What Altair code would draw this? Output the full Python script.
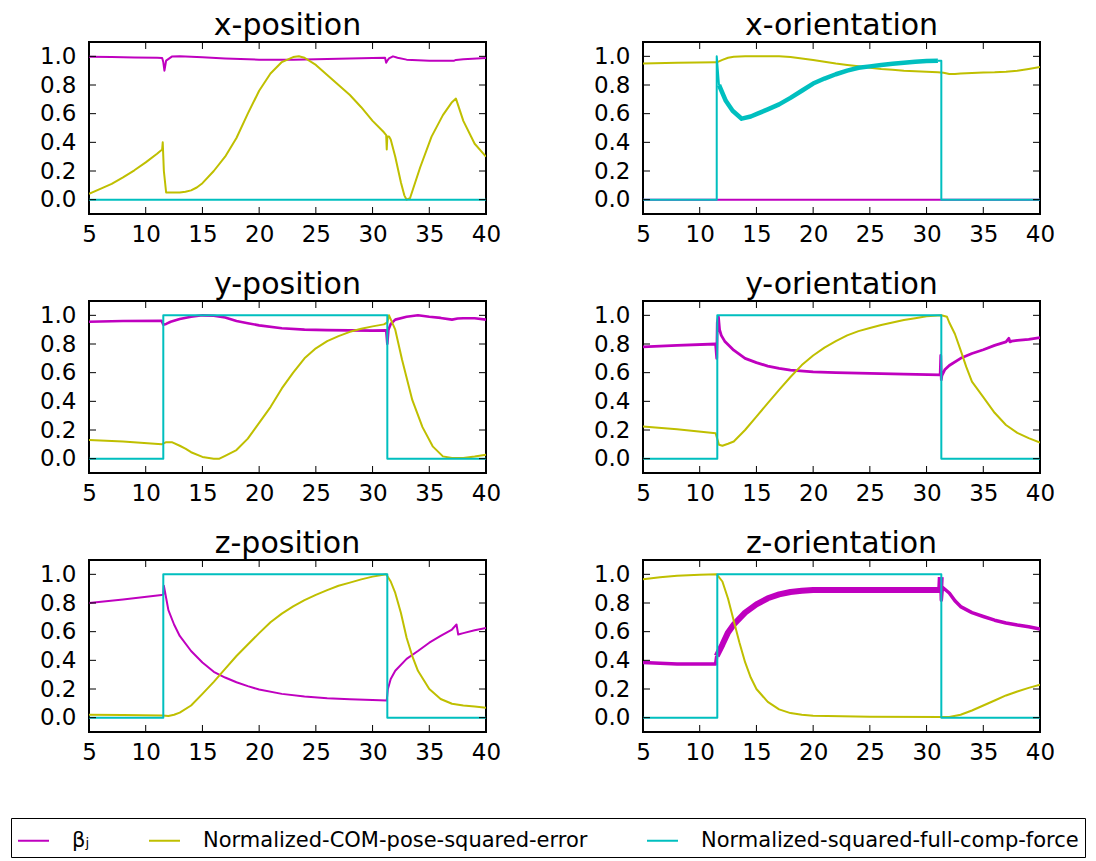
import altair as alt
import pandas as pd

PANELS = ["x-position", "x-orientation", "y-position", "y-orientation", "z-position", "z-orientation"]
SERIES = ["βⱼ", "Normalized-COM-pose-squared-error", "Normalized-squared-full-comp-force"]
COLORS = ["#bf00bf", "#bfbf00", "#00bfbf"]
XTICKS = [5, 10, 15, 20, 25, 30, 35, 40]
YTICKS = [0.0, 0.2, 0.4, 0.6, 0.8, 1.0]

# ---- x-position ----
XPOS_BETA_X = [5, 7, 9, 11, 11.45, 11.55, 11.65, 11.8, 12.3, 13, 15, 17, 20, 23, 25, 28, 30, 31.1, 31.2, 31.3,
               31.45, 31.8, 32.2, 33, 35, 37.2, 37.35, 38, 40]
XPOS_BETA_Y = [0.997, 0.995, 0.992, 0.99, 0.988, 0.96, 0.9, 0.97, 0.998, 1.0, 0.993, 0.985, 0.977, 0.977, 0.98,
               0.985, 0.988, 0.99, 0.955, 0.97, 0.985, 1.0, 0.99, 0.977, 0.97, 0.97, 0.975, 0.98, 0.988]
XPOS_ERR_X = [5, 6, 7, 8, 9, 10, 11, 11.45, 11.5, 11.6, 11.8, 12.5, 13, 13.5, 14, 14.5, 15, 16, 17, 18, 19, 20,
              21, 22, 23, 23.5, 24, 25, 26, 27, 28, 29, 30, 31, 31.2, 31.25, 31.3, 31.45, 31.6, 32, 32.5, 32.8,
              33.0, 33.3, 34.2, 35.2, 36.2, 37.0, 37.35, 38, 39, 40]
XPOS_ERR_Y = [0.04, 0.075, 0.11, 0.155, 0.205, 0.26, 0.32, 0.35, 0.40, 0.2, 0.05, 0.05, 0.05, 0.055, 0.065, 0.085,
              0.115, 0.2, 0.3, 0.43, 0.6, 0.76, 0.88, 0.96, 0.995, 1.0, 0.99, 0.94, 0.87, 0.8, 0.73, 0.645, 0.55,
              0.47, 0.45, 0.35, 0.44, 0.44, 0.42, 0.3, 0.12, 0.03, 0.0, 0.01, 0.226, 0.44, 0.59, 0.68, 0.705,
              0.55, 0.39, 0.3]
XPOS_FORCE_X = [5, 40]
XPOS_FORCE_Y = [0.0, 0.0]

# ---- x-orientation ----
XORI_BETA_X = [5, 40]
XORI_BETA_Y = [0.0, 0.0]
XORI_ERR_X = [5, 8, 11.5, 12, 12.5, 13, 14, 15, 16, 17, 18, 19, 20, 21, 22, 23, 24, 25, 26, 27, 28, 29, 30, 31,
              31.5, 32, 32.5, 33, 34, 35, 36, 37, 38, 39, 40]
XORI_ERR_Y = [0.95, 0.955, 0.958, 0.975, 0.99, 0.997, 1.0, 1.0, 1.0, 1.0, 0.995, 0.985, 0.975, 0.962, 0.95, 0.94,
              0.93, 0.92, 0.912, 0.906, 0.9, 0.896, 0.892, 0.889, 0.885, 0.877, 0.876, 0.88, 0.884, 0.887, 0.889,
              0.893, 0.9, 0.912, 0.925]
XORI_FORCE_X = [5, 11.5, 11.5, 11.7, 12.3, 12.9, 13.7, 14.5, 15.1, 16, 17, 18, 19, 20, 21, 22, 23, 24, 25, 26, 27,
                28, 29, 30, 31, 31.3, 31.3, 40]
XORI_FORCE_Y = [0.0, 0.0, 1.0, 0.80, 0.69, 0.62, 0.565, 0.58, 0.6, 0.63, 0.665, 0.71, 0.76, 0.81, 0.845, 0.875,
                0.9, 0.92, 0.93, 0.94, 0.948, 0.955, 0.962, 0.967, 0.97, 0.97, 0.0, 0.0]

# ---- y-position ----
YPOS_BETA_X = [5, 8, 11.4, 11.55, 11.8, 12.2, 13, 14, 15, 16, 17, 18, 19, 20, 22, 24, 26, 28, 30, 31.2, 31.3,
               31.4, 31.6, 32, 33, 34, 35, 36, 37, 37.5, 38, 39, 40]
YPOS_BETA_Y = [0.955, 0.96, 0.962, 0.935, 0.94, 0.955, 0.975, 0.99, 1.0, 0.997, 0.985, 0.96, 0.945, 0.93, 0.91,
               0.9, 0.897, 0.895, 0.893, 0.895, 0.80, 0.9, 0.94, 0.97, 0.99, 1.0, 0.99, 0.982, 0.97, 0.978, 0.98,
               0.98, 0.97]
YPOS_ERR_X = [5, 8, 11.4, 11.8, 12.3, 13, 13.5, 14, 15, 16, 16.5, 17, 18, 19, 20, 21, 22, 23, 24, 25, 26, 27, 28,
              29, 30, 31, 31.3, 31.45, 32, 32.6, 33.5, 34.4, 35.3, 36.2, 37, 38, 39, 40]
YPOS_ERR_Y = [0.13, 0.12, 0.10, 0.115, 0.115, 0.09, 0.07, 0.045, 0.012, 0.0, 0.0, 0.02, 0.06, 0.14, 0.25, 0.36,
              0.49, 0.6, 0.70, 0.77, 0.82, 0.855, 0.885, 0.907, 0.923, 0.937, 0.95, 1.0, 0.9, 0.69, 0.41, 0.22,
              0.086, 0.016, 0.005, 0.005, 0.015, 0.028]
YPOS_FORCE_X = [5, 11.55, 11.55, 31.3, 31.3, 40]
YPOS_FORCE_Y = [0.0, 0.0, 1.0, 1.0, 0.0, 0.0]

# ---- y-orientation ----
YORI_BETA_X = [5, 8, 11.4, 11.5, 11.55, 11.65, 11.75, 11.9, 12.2, 13, 14, 15, 16, 17, 18, 20, 22, 25, 28, 31.2,
               31.25, 31.3, 31.35, 31.6, 32, 33, 34, 35, 36, 37, 37.25, 37.35, 37.5, 38, 39, 40]
YORI_BETA_Y = [0.78, 0.79, 0.80, 0.70, 0.95, 0.99, 0.9, 0.86, 0.82, 0.757, 0.70, 0.67, 0.646, 0.63, 0.618, 0.606,
               0.6, 0.595, 0.59, 0.585, 0.72, 0.55, 0.58, 0.62, 0.65, 0.70, 0.734, 0.76, 0.79, 0.815, 0.84, 0.815,
               0.82, 0.826, 0.833, 0.845]
YORI_ERR_X = [5, 8, 11.4, 11.7, 12, 12.5, 13, 14, 15, 16, 17, 18, 19, 20, 21, 22, 23, 24, 25, 26, 27, 28, 29, 30,
              31.3, 31.8, 32, 32.5, 33, 33.5, 34, 35, 36, 37, 38, 39, 40]
YORI_ERR_Y = [0.225, 0.205, 0.178, 0.097, 0.09, 0.104, 0.12, 0.2, 0.294, 0.387, 0.48, 0.57, 0.653, 0.72, 0.775,
              0.82, 0.86, 0.89, 0.912, 0.933, 0.95, 0.968, 0.98, 0.993, 1.0, 0.99, 0.95, 0.87, 0.757, 0.64, 0.537,
              0.43, 0.32, 0.235, 0.18, 0.143, 0.113]
YORI_FORCE_X = [5, 11.55, 11.55, 31.3, 31.3, 40]
YORI_FORCE_Y = [0.0, 0.0, 1.0, 1.0, 0.0, 0.0]

# ---- z-position ----
ZPOS_BETA_X = [5, 8, 11.4, 11.55, 11.6, 12, 12.5, 13, 14, 15, 16, 17, 18, 19, 20, 22, 24, 26, 28, 30, 31.25, 31.3,
               31.35, 31.6, 32, 33, 34, 35, 36, 37, 37.4, 37.55, 38, 39, 40]
ZPOS_BETA_Y = [0.80, 0.825, 0.855, 0.86, 0.92, 0.75, 0.65, 0.57, 0.465, 0.385, 0.32, 0.28, 0.247, 0.22, 0.196,
               0.166, 0.147, 0.136, 0.129, 0.124, 0.12, 0.16, 0.2, 0.27, 0.327, 0.41, 0.465, 0.523, 0.57, 0.615,
               0.65, 0.58, 0.59, 0.61, 0.625]
ZPOS_ERR_X = [5, 8, 11.5, 12, 12.5, 13, 14, 15, 16, 17, 18, 19, 20, 21, 22, 23, 24, 25, 26, 27, 28, 29, 30, 31.2,
              31.6, 32, 32.5, 33, 33.5, 34, 35, 36, 37, 38, 39, 40]
ZPOS_ERR_Y = [0.02, 0.018, 0.015, 0.012, 0.02, 0.035, 0.085, 0.166, 0.25, 0.34, 0.43, 0.51, 0.59, 0.666, 0.726,
              0.776, 0.82, 0.857, 0.89, 0.92, 0.942, 0.965, 0.984, 1.0, 0.95, 0.87, 0.73, 0.558, 0.43, 0.327, 0.2,
              0.13, 0.097, 0.085, 0.078, 0.07]
ZPOS_FORCE_X = [5, 11.55, 11.55, 31.3, 31.3, 40]
ZPOS_FORCE_Y = [0.0, 0.0, 1.0, 1.0, 0.0, 0.0]

# ---- z-orientation ----
ZORI_BETA_X = [5, 8, 11.4, 11.5, 12, 12.5, 13, 14, 15, 16, 17, 18, 19, 20, 22, 25, 28, 31.2, 31.25, 31.3, 31.4,
               32, 32.5, 33, 34, 35, 36, 37, 38, 39, 40]
ZORI_BETA_Y = [0.385, 0.375, 0.375, 0.43, 0.51, 0.595, 0.65, 0.733, 0.79, 0.833, 0.86, 0.877, 0.885, 0.89, 0.89,
               0.89, 0.89, 0.89, 0.98, 0.82, 0.91, 0.87, 0.815, 0.775, 0.733, 0.706, 0.68, 0.66, 0.646, 0.634,
               0.618]
ZORI_ERR_X = [5, 6.5, 8, 10, 11.5, 12, 12.5, 13, 13.5, 14, 14.5, 15, 16, 17, 18, 19, 20, 25, 31.3, 32, 33, 34, 35,
              36, 37, 38, 39, 40]
ZORI_ERR_Y = [0.965, 0.98, 0.99, 0.997, 1.0, 0.95, 0.83, 0.676, 0.525, 0.387, 0.28, 0.2, 0.11, 0.058, 0.032, 0.02,
              0.014, 0.007, 0.005, 0.005, 0.02, 0.05, 0.085, 0.12, 0.155, 0.183, 0.208, 0.23]
ZORI_FORCE_X = [5, 11.55, 11.55, 31.3, 31.3, 40]
ZORI_FORCE_Y = [0.0, 0.0, 1.0, 1.0, 0.0, 0.0]

DATA = {
    "x-position": [(XPOS_BETA_X, XPOS_BETA_Y), (XPOS_ERR_X, XPOS_ERR_Y), (XPOS_FORCE_X, XPOS_FORCE_Y)],
    "x-orientation": [(XORI_BETA_X, XORI_BETA_Y), (XORI_ERR_X, XORI_ERR_Y), (XORI_FORCE_X, XORI_FORCE_Y)],
    "y-position": [(YPOS_BETA_X, YPOS_BETA_Y), (YPOS_ERR_X, YPOS_ERR_Y), (YPOS_FORCE_X, YPOS_FORCE_Y)],
    "y-orientation": [(YORI_BETA_X, YORI_BETA_Y), (YORI_ERR_X, YORI_ERR_Y), (YORI_FORCE_X, YORI_FORCE_Y)],
    "z-position": [(ZPOS_BETA_X, ZPOS_BETA_Y), (ZPOS_ERR_X, ZPOS_ERR_Y), (ZPOS_FORCE_X, ZPOS_FORCE_Y)],
    "z-orientation": [(ZORI_BETA_X, ZORI_BETA_Y), (ZORI_ERR_X, ZORI_ERR_Y), (ZORI_FORCE_X, ZORI_FORCE_Y)],
}

# ---- styles (line widths; noisy bands drawn thicker) ----
BASE_W = 2.0
WIDE = {("y-position", 0): 2.6, ("y-orientation", 0): 2.8, ("z-orientation", 0): 3.5}
BANDS = {("x-orientation", 2): (11.8, 31.2, 4.5), ("z-orientation", 0): (11.6, 31.25, 6.0)}

rows = []
idx = 0
for p in PANELS:
    for s, (xs, ys) in enumerate(DATA[p]):
        base = WIDE.get((p, s), BASE_W)
        band = BANDS.get((p, s))
        prev_w, prev_pt, seg = None, None, 0
        for x, y in zip(xs, ys):
            w = band[2] if (band and band[0] <= x <= band[1]) else base
            if prev_w is not None and w != prev_w:
                seg += 1
                rows.append(dict(panel=p, series=SERIES[s], x=prev_pt[0], y=prev_pt[1], w=w,
                                 seg=f"{p}|{s}|{seg}", i=idx))
                idx += 1
            rows.append(dict(panel=p, series=SERIES[s], x=x, y=y, w=w, seg=f"{p}|{s}|{seg}", i=idx))
            idx += 1
            prev_w, prev_pt = w, (x, y)
df = pd.DataFrame(rows)

W, H, TICK = 397, 172, 7
FONT = "DejaVu Sans"

legend = alt.Legend(
    title=None, orient="none", legendX=-78, legendY=776, direction="horizontal",
    symbolType="stroke", symbolSize=960, symbolStrokeWidth=2, labelFont=FONT, labelFontSize=21,
    labelColor="black", labelOffset=22, labelLimit=600, columnPadding=55, strokeColor="black",
    padding=6, cornerRadius=0, fillColor="white",
)

XAXIS = alt.Axis(values=XTICKS, format="d", title=None)
YAXIS = alt.Axis(values=YTICKS, format=".1f", title=None)


def panel(p):
    d = df[df.panel == p]
    xs = alt.Scale(domain=[5, 40], nice=False, zero=False)
    ys = alt.Scale(domain=[-0.1, 1.1], nice=False, zero=False)
    lines = alt.Chart(d).mark_line(clip=True, strokeJoin="round").encode(
        x=alt.X("x:Q", scale=xs, axis=XAXIS),
        y=alt.Y("y:Q", scale=ys, axis=YAXIS),
        color=alt.Color("series:N", scale=alt.Scale(domain=SERIES, range=COLORS), legend=legend),
        strokeWidth=alt.StrokeWidth("w:Q", scale=None, legend=None),
        detail="seg:N",
        order=alt.Order("i:Q"),
    )
    tx = alt.Chart(pd.DataFrame({"t": XTICKS}))
    ty = alt.Chart(pd.DataFrame({"t": YTICKS}))
    rule = dict(color="black", strokeWidth=1)
    bottom = tx.mark_rule(**rule).encode(x=alt.X("t:Q", scale=xs, axis=XAXIS), y=alt.value(H), y2=alt.value(H - TICK))
    top = tx.mark_rule(**rule).encode(x=alt.X("t:Q", scale=xs, axis=XAXIS), y=alt.value(0), y2=alt.value(TICK))
    left = ty.mark_rule(**rule).encode(y=alt.Y("t:Q", scale=ys, axis=YAXIS), x=alt.value(0), x2=alt.value(TICK))
    right = ty.mark_rule(**rule).encode(y=alt.Y("t:Q", scale=ys, axis=YAXIS), x=alt.value(W), x2=alt.value(W - TICK))
    return alt.layer(lines, bottom, top, left, right).properties(
        width=W, height=H,
        title=alt.TitleParams(p, fontSize=30, font=FONT, fontWeight="normal", anchor="middle", offset=1,
                              color="black"),
    )


grid_rows = [alt.hconcat(panel(PANELS[2 * r]), panel(PANELS[2 * r + 1]), spacing=90) for r in range(3)]
chart = alt.vconcat(*grid_rows, spacing=21).properties(
    padding={"left": 2, "top": 1, "right": 2, "bottom": 2}
).configure_view(
    stroke="black", strokeWidth=2
).configure_axis(
    labelFont=FONT, labelFontSize=23, labelColor="black", ticks=False, domain=False, grid=False,
    labelFlush=False
).configure_axisX(
    labelPadding=9
).configure_axisY(
    labelPadding=13
)

chart.save("out.html", embed_options={"renderer": "svg", "actions": False})
